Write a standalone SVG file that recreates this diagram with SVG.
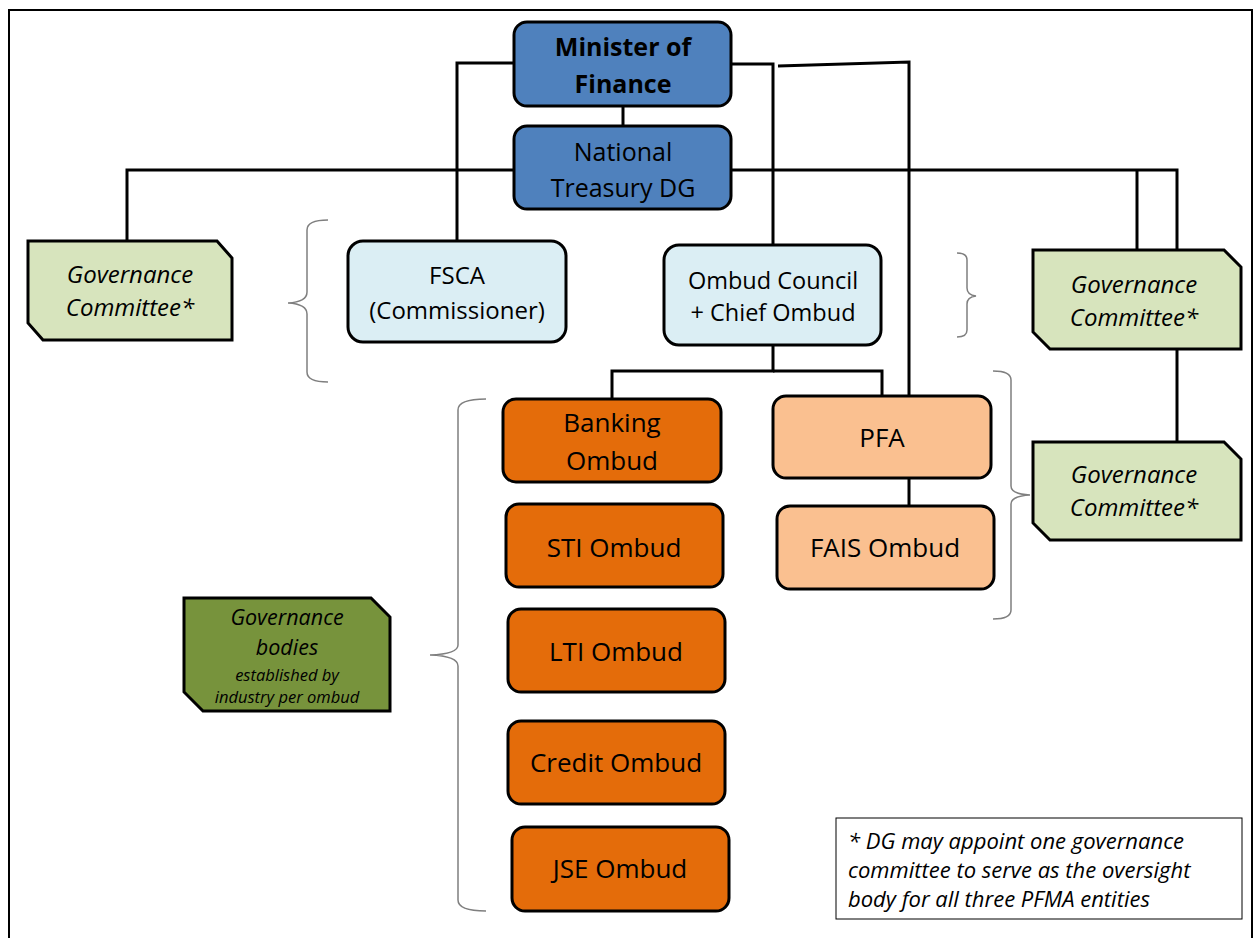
<svg xmlns="http://www.w3.org/2000/svg" width="1255" height="938" viewBox="0 0 1255 938">
<style>
.box{stroke:#000;stroke-width:3}
.blue{fill:#4f81bd}
.lb{fill:#dbeef4}
.or{fill:#e46c0a}
.lo{fill:#fac090}
.gc{fill:#d7e4bd}
.dg{fill:#77933c}
.t{font-family:"Open Sans","Liberation Sans",sans-serif;font-size:25px;fill:#000;text-anchor:middle}
.o{font-size:26px}
.g{font-style:italic;font-size:24px}
.i{font-style:italic}
.b{font-weight:bold}
.n{font-style:italic;font-size:22px;text-anchor:start}
.con{fill:none;stroke:#000;stroke-width:3}
.br{fill:none;stroke:#7f7f7f;stroke-width:1.5}
</style>
<rect x="9" y="10" width="1243" height="940" fill="#fff" stroke="#000" stroke-width="2"/>
<g id="connectors">
<path class="con" d="M623 106V126"/>
<path class="con" d="M514 63H457V241"/>
<path class="con" d="M731 64H773V245"/>
<path class="con" d="M778 66L909 62V396"/>
<path class="con" d="M514 170H127V241"/>
<path class="con" d="M731 170H1177V250"/>
<path class="con" d="M1137 170V250"/>
<path class="con" d="M1177 349V442"/>
<path class="con" d="M773 345V371H612V399"/>
<path class="con" d="M773 371H882V396"/>
<path class="con" d="M909 478V506"/>
</g>
<g id="braces">
<path class="br" d="M328 220Q307 220 307 230V292Q307 302 288 303Q307 304 307 314V372Q307 382 328 382"/>
<path class="br" d="M957 253Q967 253 967 260V288Q967 295 976 296Q967 297 967 304V330Q967 337 957 337"/>
<path class="br" d="M486 399Q458 399 458 410V645Q458 654 430 655Q458 656 458 666V900Q458 911 486 911"/>
<path class="br" d="M993 371Q1011 371 1011 380V486Q1011 494 1030 495Q1011 496 1011 504V610Q1011 619 993 619"/>
</g>
<g id="minister">
<rect class="box blue" x="514" y="22" width="217" height="84" rx="13"/>
<text class="t b" x="623" y="56">Minister of</text>
<text class="t b" x="623" y="93">Finance</text>
</g>
<g id="treasury">
<rect class="box blue" x="514" y="126" width="217" height="83" rx="13"/>
<text class="t" x="623" y="161">National</text>
<text class="t" x="623" y="197">Treasury DG</text>
</g>
<g id="gov-left">
<path class="box gc" d="M28 241H217L232 258V340H43L28 323Z"/>
<text class="t g" x="130" y="283">Governance</text>
<text class="t g" x="130" y="316">Committee*</text>
</g>
<g id="fsca">
<rect class="box lb" x="348" y="241" width="218" height="101" rx="15"/>
<text class="t" x="457" y="284" style="font-size:24px">FSCA</text>
<text class="t" x="457" y="319" style="font-size:24px">(Commissioner)</text>
</g>
<g id="ombud-council">
<rect class="box lb" x="664" y="245" width="217" height="100" rx="15"/>
<text class="t" x="773" y="289" style="font-size:23.5px">Ombud Council</text>
<text class="t" x="773" y="321" style="font-size:23.5px">+ Chief Ombud</text>
</g>
<g id="gov-right-top">
<path class="box gc" d="M1033 250H1224L1241 267V349H1050L1033 332Z"/>
<text class="t g" x="1134" y="293">Governance</text>
<text class="t g" x="1134" y="326">Committee*</text>
</g>
<g id="banking">
<rect class="box or" x="503" y="399" width="218" height="83" rx="13"/>
<text class="t o" x="612" y="432">Banking</text>
<text class="t o" x="612" y="470">Ombud</text>
</g>
<g id="sti">
<rect class="box or" x="506" y="504" width="217" height="83" rx="13"/>
<text class="t o" x="614" y="557">STI Ombud</text>
</g>
<g id="lti">
<rect class="box or" x="508" y="609" width="217" height="83" rx="13"/>
<text class="t o" x="616" y="661">LTI Ombud</text>
</g>
<g id="credit">
<rect class="box or" x="508" y="721" width="217" height="83" rx="13"/>
<text class="t o" x="616" y="772">Credit Ombud</text>
</g>
<g id="jse">
<rect class="box or" x="512" y="827" width="217" height="84" rx="13"/>
<text class="t o" x="620" y="878">JSE Ombud</text>
</g>
<g id="pfa">
<rect class="box lo" x="773" y="396" width="218" height="82" rx="13"/>
<text class="t o" x="882" y="447">PFA</text>
</g>
<g id="fais">
<rect class="box lo" x="777" y="506" width="217" height="83" rx="13"/>
<text class="t o" x="885" y="557">FAIS Ombud</text>
</g>
<g id="gov-right-bottom">
<path class="box gc" d="M1033 442H1224L1241 459V540H1050L1033 523Z"/>
<text class="t g" x="1134" y="483">Governance</text>
<text class="t g" x="1134" y="516">Committee*</text>
</g>
<g id="gov-bodies">
<path class="box dg" d="M184 598H371L390 617V711H203L184 692Z"/>
<text class="t i" x="287" y="625" style="font-size:21.5px">Governance</text>
<text class="t i" x="287" y="655" style="font-size:21.5px">bodies</text>
<text class="t i" x="287" y="681" style="font-size:16.5px">established by</text>
<text class="t i" x="287" y="703" style="font-size:16.5px">industry per ombud</text>
</g>
<g id="note">
<rect x="836" y="818" width="406" height="101" fill="#fff" stroke="#000" stroke-width="1"/>
<text class="t n" x="848" y="849">* DG may appoint one governance</text>
<text class="t n" x="848" y="878">committee to serve as the oversight</text>
<text class="t n" x="848" y="907">body for all three PFMA entities</text>
</g>
</svg>
